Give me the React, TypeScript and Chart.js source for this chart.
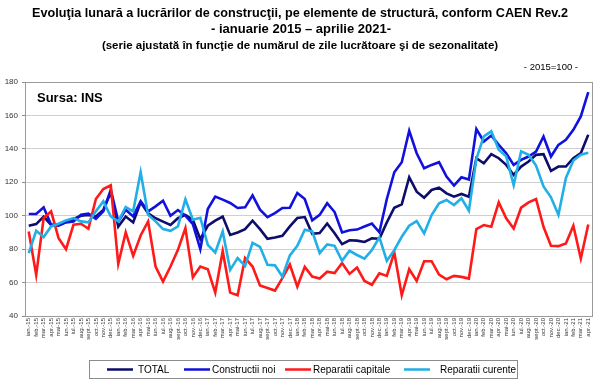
import React, { useEffect, useRef } from "react";
import { Chart, registerables } from "chart.js";

Chart.register(...registerables);

const MONTHS = ["ian.", "feb.", "mar.", "apr.", "mai", "iun.", "iul.", "aug.", "sept.", "oct.", "nov.", "dec."];
const YEARS = ["15", "16", "17", "18", "19", "20", "21"];
const MONTHS_IN_LAST_YEAR = 4;

const TOTAL = [
  94, 95, 99.5, 94.5, 94.5, 96.5, 98, 100, 100.5, 99.5, 103.5, 114,
  93.5, 99.5, 96, 108, 101.5, 98.5, 96.5, 94.5, 98.5, 100.5, 97.5, 86,
  94, 97, 99.5, 88.5, 90, 92, 97, 92, 86.2, 87, 88, 93.6,
  98.6, 99.2, 89.2, 89.6, 95.3, 89.5, 83, 85.3, 85.1, 84.3, 86.5, 86.2,
  96, 104.8, 106.8, 123, 114.4, 110.8, 115.4, 116.8, 113.4, 111.4, 113, 111.4,
  134.4, 131.4, 136.8, 134.4, 130.4, 124.4, 129.4, 132.4, 136.4, 136.8, 126.8, 129.4,
  129.4, 134.4, 137.4, 148.4,
];

const CONSTRUCTII_NOI = [
  101, 101, 105, 94.6, 94, 96, 96.6, 100.6, 101.2, 98.2, 102.6, 115.6,
  96.6, 103.6, 99.6, 108.6, 102.6, 105.6, 109, 100, 103.4, 100, 95, 80,
  104, 111.4, 109.6, 107.6, 104.6, 105, 112.2, 103.6, 99.2, 101.6, 104.6, 104.8,
  113.6, 110, 97.2, 100.5, 107.5, 102.2, 90, 91.3, 91.7, 93.5, 95.3, 90.1,
  110, 126, 132, 150.8, 137.4, 128.4, 130.4, 132, 123.4, 118, 123, 121.6,
  151.8, 144.4, 148, 142.4, 137.4, 130.4, 133.4, 135.4, 138.4, 147.4, 135.4, 142.4,
  145.4, 151.4, 159.4, 174,
];

const REPARATII_CAPITALE = [
  90.6, 64.6, 98.6, 102.6, 86.6, 80, 94.6, 95.2, 92.2, 110, 116, 118.2,
  71.2, 90, 76, 88.2, 96.6, 69.6, 60.6, 69.6, 79.6, 92.6, 63.2, 69.6,
  68, 54, 78.8, 54, 52.4, 74.6, 69.6, 58.3, 56.8, 55.2, 62.6, 70.8,
  57.6, 69.4, 63.6, 62.4, 66.5, 65.7, 71.7, 65.2, 69, 61, 58.7, 65.5,
  64, 78, 52.4, 68, 61, 72.8, 72.8, 64.8, 62, 64, 63.4, 62.4,
  92, 94.4, 93.4, 108, 98.4, 92.4, 104.8, 108, 110, 93.4, 82, 81.8,
  83.4, 94, 74.4, 94.8,
];

const REPARATII_CURENTE = [
  77.6, 91, 87.2, 93.6, 95.2, 97.2, 98.6, 96.6, 96, 102.6, 108.6, 99.6,
  96.6, 105.2, 102.6, 126, 100.6, 96.6, 92, 91, 93.6, 109.8, 97.6, 98.8,
  82.6, 78, 90.6, 67.6, 74.6, 70, 83.8, 81.4, 70.6, 70.3, 63.6, 76.3,
  82, 91.6, 90.6, 77.6, 82.8, 82, 73, 79, 76.5, 74.3, 79.5, 87,
  73, 79.4, 87.4, 94, 96.8, 89.4, 100.4, 107.4, 109.4, 106.4, 110.4, 103,
  134, 147.5, 150.5, 139.5, 135.5, 118.3, 138.5, 136.5, 130, 117.5, 111, 100.5,
  122.5, 133, 136.5, 137.7,
];

const SERIES_NAMES = ["TOTAL", "Constructii noi", "Reparatii capitale", "Reparatii curente"];
const SERIES_COLORS = ["#0d0d6b", "#1111dd", "#ff1a1a", "#22aee6"];

const TITLE_1 = "Evoluţia lunară a lucrărilor de construcţii, pe elemente de structură, conform CAEN Rev.2";
const TITLE_2 = "- ianuarie 2015 – aprilie 2021-";
const TITLE_3 = "(serie ajustată în funcţie de numărul de zile lucrătoare şi de sezonalitate)";
const BASE_NOTE = "- 2015=100 -";
const SOURCE_NOTE = "Sursa: INS";

const LABELS: string[] = [];
YEARS.forEach((y, yi) => {
  const n = yi === YEARS.length - 1 ? MONTHS_IN_LAST_YEAR : 12;
  for (let m = 0; m < n; m++) {
    LABELS.push(MONTHS[m] + "-" + y);
  }
});

const FONT = '"Liberation Sans", Arial, sans-serif';

const decorPlugin = {
  id: "decor",
  afterDraw(chart: any) {
    const ctx = chart.ctx as CanvasRenderingContext2D;
    const area = chart.chartArea;
    ctx.save();
    // plot frame
    ctx.strokeStyle = "#9a9a9a";
    ctx.lineWidth = 1;
    ctx.strokeRect(Math.round(area.left) + 0.5, Math.round(area.top) + 0.5, Math.round(area.right - area.left), Math.round(area.bottom - area.top));

    // titles
    ctx.fillStyle = "#000";
    ctx.textAlign = "center";
    ctx.textBaseline = "middle";
    ctx.font = "bold 13px " + FONT;
    ctx.fillText(TITLE_1, 300, 13, 536);
    ctx.fillText(TITLE_2, 301, 29);
    ctx.font = "bold 11.5px " + FONT;
    ctx.fillText(TITLE_3, 300, 46, 400);
    ctx.font = "9.5px " + FONT;
    ctx.textAlign = "right";
    ctx.fillText(BASE_NOTE, 578, 67);

    // source
    ctx.textAlign = "left";
    ctx.font = "bold 13px " + FONT;
    ctx.fillText(SOURCE_NOTE, 37, 98);

    // legend
    ctx.strokeStyle = "#8c8c8c";
    ctx.lineWidth = 1;
    ctx.strokeRect(89.5, 360.5, 428, 18);
    const items = chart.data.datasets;
    const lineStarts = [107, 184, 285, 404];
    const textStarts = [138, 212, 313, 440];
    ctx.font = "10px " + FONT;
    ctx.textBaseline = "middle";
    items.forEach((ds: any, i: number) => {
      ctx.strokeStyle = ds.borderColor;
      ctx.lineWidth = 2.5;
      ctx.beginPath();
      ctx.moveTo(lineStarts[i], 369.5);
      ctx.lineTo(lineStarts[i] + 26, 369.5);
      ctx.stroke();
      ctx.fillStyle = "#000";
      ctx.fillText(ds.label, textStarts[i], 370);
    });
    ctx.restore();
  },
};

export default function App() {
  const ref = useRef<HTMLCanvasElement | null>(null);
  useEffect(() => {
    document.body.style.margin = "0";
    const canvas = ref.current;
    if (!canvas) return;
    const values = [TOTAL, CONSTRUCTII_NOI, REPARATII_CAPITALE, REPARATII_CURENTE];
    const chart = new Chart(canvas, {
      type: "line",
      data: {
        labels: LABELS,
        datasets: values.map((d, i) => ({
          label: SERIES_NAMES[i],
          data: d,
          borderColor: SERIES_COLORS[i],
          backgroundColor: SERIES_COLORS[i],
          borderWidth: 2.6,
          pointRadius: 0,
          tension: 0,
          order: 4 - i,
        })),
      },
      options: {
        responsive: false,
        animation: false,
        devicePixelRatio: 1,
        layout: { padding: { left: 0, top: 82, right: 8, bottom: 42 } },
        plugins: { legend: { display: false }, tooltip: { enabled: false }, title: { display: false } },
        scales: {
          x: {
            offset: true,
            grid: { display: false, drawTicks: false },
            border: { display: true, color: "#8c8c8c" },
            ticks: {
              autoSkip: false,
              maxRotation: 90,
              minRotation: 90,
              padding: 2,
              color: "#333",
              font: { family: FONT, size: 6 },
            },
            afterFit: (s: any) => {
              s.height = 29;
            },
          },
          y: {
            min: 40,
            max: 180,
            ticks: { stepSize: 20, color: "#333", font: { family: FONT, size: 8 }, padding: 4 },
            grid: { color: "#cfcfcf", lineWidth: 1, tickLength: 3, tickColor: "#8c8c8c" },
            border: { display: true, color: "#8c8c8c" },
            afterFit: (s: any) => {
              s.width = 25;
            },
          },
        },
      },
      plugins: [decorPlugin],
    });
    return () => chart.destroy();
  }, []);
  return <canvas ref={ref} width={600} height={387} style={{ display: "block", width: 600, height: 387 }} />;
}
